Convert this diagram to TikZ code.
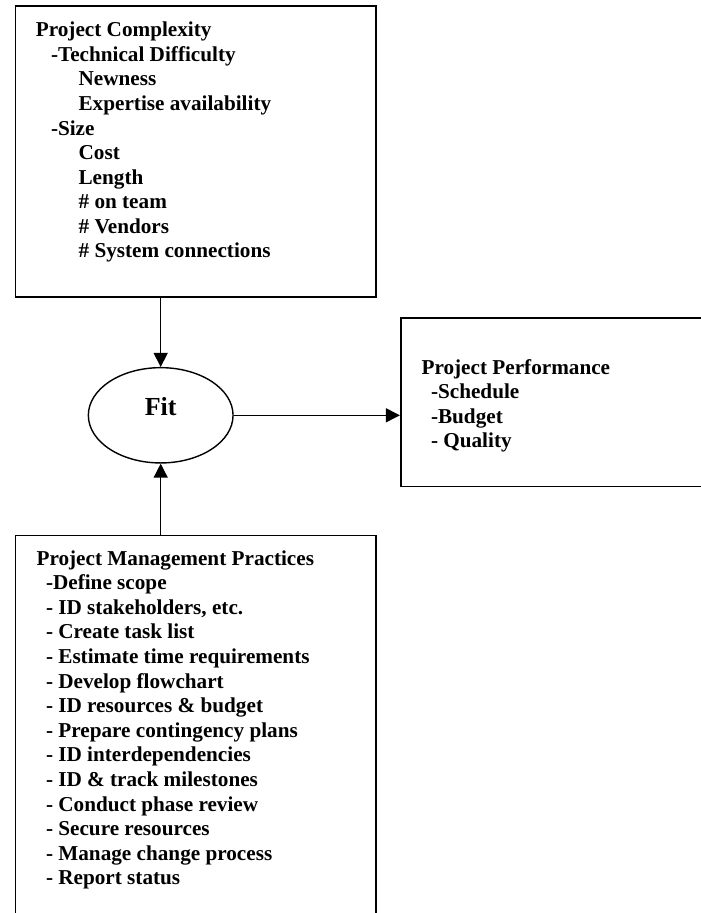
\documentclass[tikz,border=0pt]{standalone}
\usepackage{fontspec}
\setmainfont{Liberation Serif}
\usetikzlibrary{arrows.meta,shapes.geometric}
\begin{document}
\begin{tikzpicture}[x=1pt,y=-1pt,
  box/.style={draw=black,line width=1.6pt,rectangle,inner sep=0pt},
  fitshape/.style={draw=black,line width=1.4pt,ellipse,inner sep=0pt},
  arr/.style={line width=1.4pt,-{Triangle[length=14pt,width=14pt]}},
  txt/.style={anchor=base west,inner sep=0pt,font=\bfseries\fontsize{21.2}{24}\selectfont},
  fittext/.style={anchor=base,inner sep=0pt,font=\bfseries\fontsize{26}{30}\selectfont}]
\clip (0,0) rectangle (701,913);
\fill[white] (0,0) rectangle (701,913);

% boxes
\node[box,minimum width=360.7pt,minimum height=290.7pt] (pc) at (195.65,151.35) {};
\node[box,minimum width=360.7pt,minimum height=399.5pt] (pm) at (195.65,735.25) {};
\node[box,minimum width=319.3pt,minimum height=168.5pt] (pp) at (560.35,402.25) {};
\node[fitshape,minimum width=144.7pt,minimum height=95.3pt] (fit) at (160.7,415.3) {};
\node[fittext] (fitlbl) at (160.7,415) {Fit};

% connectors
\draw[arr] (fit.north |- pc.south) -- (fit.north);
\draw[arr] (fit.south |- pm.north) -- (fit.south);
\draw[arr] (fit.east) -- (fit.east -| pp.west);

% Project Complexity
\node[txt] (pc1) at (35.7,36.8) {Project Complexity};
\node[txt] (pc2) at (50.8,61.35) {-Technical Difficulty};
\node[txt] (pc3) at (78.4,85.9) {Newness};
\node[txt] (pc4) at (78.4,110.45) {Expertise availability};
\node[txt] (pc5) at (50.8,135) {-Size};
\node[txt] (pc6) at (78.4,159.55) {Cost};
\node[txt] (pc7) at (78.4,184.1) {Length};
\node[txt] (pc8) at (78.4,208.65) {\# on team};
\node[txt] (pc9) at (78.4,233.2) {\# Vendors};
\node[txt] (pc10) at (78.4,257.75) {\# System connections};

% Project Performance
\node[txt] (pp1) at (421.4,374) {Project Performance};
\node[txt] (pp2) at (430.8,398.5) {-Schedule};
\node[txt] (pp3) at (430.8,423) {-Budget};
\node[txt] (pp4) at (430.8,447.5) {- Quality};

% Project Management Practices
\node[txt] (pm1) at (36.4,565) {Project Management Practices};
\node[txt] (pm2) at (45.8,589.6) {-Define scope};
\node[txt] (pm3) at (45.8,614.2) {- ID stakeholders, etc.};
\node[txt] (pm4) at (45.8,638.8) {- Create task list};
\node[txt] (pm5) at (45.8,663.4) {- Estimate time requirements};
\node[txt] (pm6) at (45.8,688) {- Develop flowchart};
\node[txt] (pm7) at (45.8,712.6) {- ID resources \& budget};
\node[txt] (pm8) at (45.8,737.2) {- Prepare contingency plans};
\node[txt] (pm9) at (45.8,761.8) {- ID interdependencies};
\node[txt] (pm10) at (45.8,786.4) {- ID \& track milestones};
\node[txt] (pm11) at (45.8,811) {- Conduct phase review};
\node[txt] (pm12) at (45.8,835.6) {- Secure resources};
\node[txt] (pm13) at (45.8,860.2) {- Manage change process};
\node[txt] (pm14) at (45.8,884.8) {- Report status};
\end{tikzpicture}
\end{document}
